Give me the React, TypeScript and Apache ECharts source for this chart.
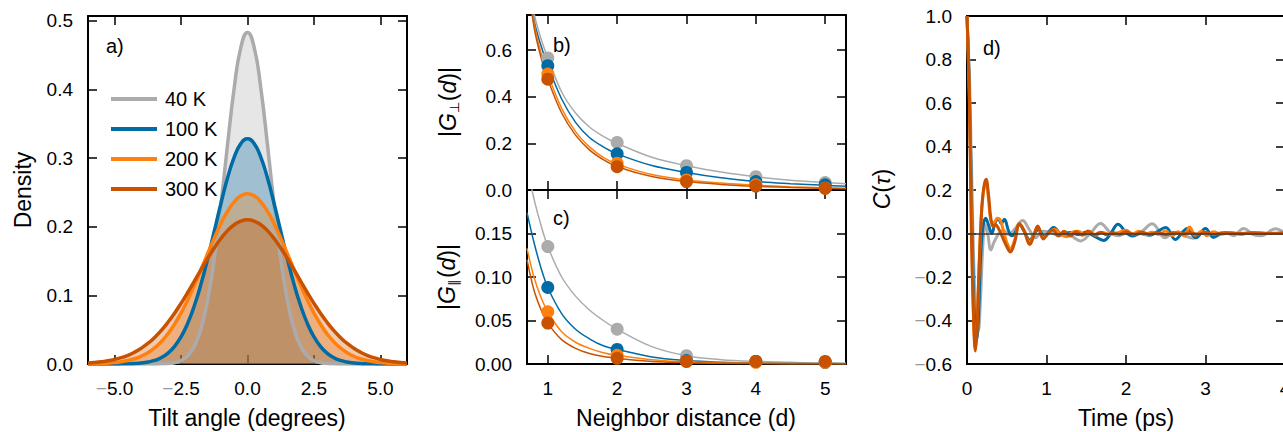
import React, { useEffect, useRef } from 'react';
import * as echarts from 'echarts';

const FONT = '"Liberation Sans", Arial, Helvetica, sans-serif';
const COLORS = ['#ABABAB', '#006BA4', '#FF800E', '#C85200'];
const TEMPS = ['40 K', '100 K', '200 K', '300 K'];

// ---- panel a: tilt angle densities ----
const TILT_X = [-6, -5.75, -5.5, -5.25, -5, -4.75, -4.5, -4.25, -4, -3.75, -3.5, -3.25, -3, -2.75, -2.5, -2.25, -2, -1.75, -1.5, -1.25, -1, -0.75, -0.5, -0.25, 0,
  0.25, 0.5, 0.75, 1, 1.25, 1.5, 1.75, 2, 2.25, 2.5, 2.75, 3, 3.25, 3.5, 3.75, 4, 4.25, 4.5, 4.75, 5, 5.25, 5.5, 5.75, 6];
const DENS_40 = [0, 0, 0, 0, 0, 0, 0, 0, 0, 0, 0.0001, 0.0002, 0.0007, 0.0019, 0.005, 0.0118, 0.0257, 0.0512, 0.0929, 0.1537, 0.2321, 0.3198, 0.4021, 0.4614, 0.483,
  0.4614, 0.4021, 0.3198, 0.2321, 0.1537, 0.0929, 0.0512, 0.0257, 0.0118, 0.005, 0.0019, 0.0007, 0.0002, 0.0001, 0, 0, 0, 0, 0, 0, 0, 0, 0, 0];
const DENS_100 = [0, 0, 0, 0, 0.0001, 0.0002, 0.0003, 0.0007, 0.0015, 0.0028, 0.0052, 0.0092, 0.0156, 0.0254, 0.0396, 0.0592, 0.0848, 0.1164, 0.1533, 0.1934, 0.2339, 0.2712, 0.3014, 0.3211, 0.328,
  0.3211, 0.3014, 0.2712, 0.2339, 0.1934, 0.1533, 0.1164, 0.0848, 0.0592, 0.0396, 0.0254, 0.0156, 0.0092, 0.0052, 0.0028, 0.0015, 0.0007, 0.0003, 0.0002, 0.0001, 0, 0, 0, 0];
const DENS_200 = [0.0002, 0.0004, 0.0007, 0.0012, 0.002, 0.0032, 0.005, 0.0076, 0.0113, 0.0164, 0.0233, 0.0322, 0.0436, 0.0576, 0.0742, 0.0933, 0.1146, 0.1373, 0.1606, 0.1834, 0.2044, 0.2225, 0.2363, 0.245, 0.248,
  0.245, 0.2363, 0.2225, 0.2044, 0.1834, 0.1606, 0.1373, 0.1146, 0.0933, 0.0742, 0.0576, 0.0436, 0.0322, 0.0233, 0.0164, 0.0113, 0.0076, 0.005, 0.0032, 0.002, 0.0012, 0.0007, 0.0004, 0.0002];
const DENS_300 = [0.0014, 0.0022, 0.0032, 0.0046, 0.0066, 0.0092, 0.0127, 0.0172, 0.0229, 0.0299, 0.0385, 0.0486, 0.0604, 0.0737, 0.0884, 0.1042, 0.1207, 0.1374, 0.1538, 0.1691, 0.1828, 0.1943, 0.2029, 0.2082, 0.21,
  0.2082, 0.2029, 0.1943, 0.1828, 0.1691, 0.1538, 0.1374, 0.1207, 0.1042, 0.0884, 0.0737, 0.0604, 0.0486, 0.0385, 0.0299, 0.0229, 0.0172, 0.0127, 0.0092, 0.0066, 0.0046, 0.0032, 0.0022, 0.0014];
const TILT_TICKS = [-5, -2.5, 0, 2.5, 5];
const DENS_TICKS = [0, 0.1, 0.2, 0.3, 0.4, 0.5];

// ---- panels b, c: neighbour correlations ----
const DIST = [1, 2, 3, 4, 5];
const GPERP_40 = [0.566, 0.204, 0.104, 0.057, 0.032];
const GPERP_100 = [0.533, 0.155, 0.075, 0.036, 0.022];
const GPERP_200 = [0.497, 0.115, 0.043, 0.022, 0.008];
const GPERP_300 = [0.475, 0.1, 0.036, 0.017, 0.007];
const GPAR_40 = [0.135, 0.04, 0.0095, 0.003, 0.002];
const GPAR_100 = [0.088, 0.0168, 0.004, 0.003, 0.002];
const GPAR_200 = [0.06, 0.01, 0.003, 0.002, 0.002];
const GPAR_300 = [0.047, 0.0065, 0.003, 0.003, 0.003];
const FIT_X = [0.7, 0.8, 0.9, 1.0, 1.2, 1.4, 1.6, 1.8, 2.0, 2.5, 3.0, 3.5, 4.0, 4.5, 5.0, 5.3];
const FPERP_40 = [0.95, 0.76, 0.65, 0.566, 0.42, 0.33, 0.27, 0.23, 0.2, 0.14, 0.104, 0.077, 0.057, 0.042, 0.032, 0.027];
const FPERP_100 = [0.95, 0.73, 0.62, 0.533, 0.39, 0.29, 0.225, 0.185, 0.155, 0.105, 0.075, 0.052, 0.036, 0.027, 0.02, 0.016];
const FPERP_200 = [0.95, 0.72, 0.59, 0.497, 0.35, 0.25, 0.185, 0.14, 0.111, 0.066, 0.043, 0.03, 0.021, 0.014, 0.009, 0.007];
const FPERP_300 = [0.93, 0.7, 0.57, 0.475, 0.33, 0.235, 0.172, 0.13, 0.1, 0.058, 0.036, 0.024, 0.016, 0.011, 0.007, 0.005];
const FPAR_40 = [0.23, 0.19, 0.16, 0.135, 0.1, 0.078, 0.062, 0.05, 0.04, 0.02, 0.0095, 0.005, 0.003, 0.002, 0.001, 0.001];
const FPAR_100 = [0.174, 0.14, 0.111, 0.088, 0.058, 0.04, 0.029, 0.021, 0.0168, 0.008, 0.004, 0.002, 0.001, 0.0007, 0.0005, 0.0004];
const FPAR_200 = [0.133, 0.1, 0.077, 0.06, 0.037, 0.025, 0.018, 0.013, 0.01, 0.005, 0.0025, 0.0015, 0.001, 0.0007, 0.0005, 0.0004];
const FPAR_300 = [0.12, 0.085, 0.063, 0.047, 0.028, 0.018, 0.012, 0.0085, 0.0065, 0.003, 0.0015, 0.0008, 0.0005, 0.0003, 0.0002, 0.0002];
const PERP_TICKS = [0, 0.2, 0.4, 0.6];
const PAR_TICKS = [0, 0.05, 0.1, 0.15];

// ---- panel d: autocorrelation C(tau) [time ps, value] ----
const CT_40 = [[0, 1.0], [0.035, 0.66], [0.075, 0.0], [0.11, -0.38], [0.14, -0.45], [0.17, -0.3], [0.2, -0.05], [0.23, 0.04], [0.26, 0.0], [0.3, -0.075], [0.34, -0.04], [0.4, 0.0], [0.46, 0.015], [0.52, -0.005], [0.6, 0.02], [0.7, 0.06], [0.78, 0.02], [0.86, -0.02], [0.95, 0.01], [1.05, 0.005], [1.15, -0.01], [1.25, 0.005], [1.35, -0.02], [1.43, -0.034], [1.55, 0.0], [1.68, 0.046], [1.8, 0.005], [1.9, -0.01], [2.0, 0.0], [2.1, -0.005], [2.2, 0.01], [2.33, 0.045], [2.49, -0.02], [2.6, 0.005], [2.7, -0.005], [2.85, -0.022], [2.97, 0.005], [3.1, -0.005], [3.25, 0.005], [3.35, -0.01], [3.48, 0.023], [3.6, -0.005], [3.7, -0.01], [3.88, 0.022], [4.0, 0.0]];
const CT_100 = [[0, 1.0], [0.03, 0.66], [0.065, 0.0], [0.095, -0.4], [0.12, -0.49], [0.145, -0.38], [0.17, -0.12], [0.2, 0.03], [0.235, 0.07], [0.27, 0.04], [0.31, 0.0], [0.36, 0.055], [0.4, 0.065], [0.43, 0.045], [0.47, 0.065], [0.52, 0.015], [0.56, -0.01], [0.6, 0.0], [0.66, 0.04], [0.72, 0.01], [0.79, -0.03], [0.85, 0.0], [0.9, 0.02], [0.97, -0.015], [1.09, 0.028], [1.2, -0.005], [1.3, 0.005], [1.4, -0.005], [1.5, 0.006], [1.6, -0.012], [1.72, -0.032], [1.8, -0.005], [1.9, 0.043], [2.0, 0.005], [2.08, -0.012], [2.18, 0.0], [2.3, -0.008], [2.38, 0.005], [2.5, 0.028], [2.62, -0.028], [2.72, 0.01], [2.77, 0.023], [2.88, -0.02], [3.0, 0.023], [3.1, -0.018], [3.2, 0.0], [3.3, 0.004], [3.45, -0.002], [3.6, 0.003], [3.8, 0.0], [4.0, 0.001]];
const CT_200 = [[0, 1.0], [0.03, 0.62], [0.06, 0.0], [0.085, -0.42], [0.105, -0.53], [0.125, -0.44], [0.15, -0.17], [0.18, 0.08], [0.21, 0.2], [0.24, 0.23], [0.27, 0.16], [0.3, 0.06], [0.34, 0.05], [0.38, 0.07], [0.42, 0.06], [0.46, 0.01], [0.5, -0.04], [0.545, -0.07], [0.6, -0.03], [0.66, 0.045], [0.72, 0.015], [0.79, -0.04], [0.84, -0.005], [0.89, 0.03], [0.96, -0.02], [1.02, 0.0], [1.1, 0.02], [1.18, -0.005], [1.25, -0.015], [1.32, 0.005], [1.4, 0.01], [1.48, -0.006], [1.55, 0.008], [1.62, -0.008], [1.7, 0.005], [1.8, -0.004], [1.9, 0.004], [2.0, 0.015], [2.08, -0.002], [2.16, 0.01], [2.24, -0.006], [2.32, 0.006], [2.42, -0.004], [2.5, 0.012], [2.58, -0.01], [2.66, 0.008], [2.74, -0.012], [2.8, 0.03], [2.87, -0.008], [2.95, 0.01], [3.02, -0.01], [3.1, 0.008], [3.2, -0.004], [3.3, 0.003], [3.45, -0.003], [3.6, 0.004], [3.8, 0.0], [4.0, 0.002]];
const CT_300 = [[0, 1.0], [0.03, 0.62], [0.055, 0.0], [0.085, -0.42], [0.105, -0.54], [0.125, -0.45], [0.15, -0.18], [0.18, 0.08], [0.21, 0.21], [0.24, 0.25], [0.27, 0.18], [0.3, 0.07], [0.33, 0.03], [0.36, 0.04], [0.4, 0.02], [0.45, -0.02], [0.5, -0.06], [0.545, -0.085], [0.6, -0.04], [0.66, 0.045], [0.72, 0.01], [0.79, -0.05], [0.84, -0.01], [0.89, 0.035], [0.96, -0.025], [1.02, 0.0], [1.08, 0.016], [1.15, -0.012], [1.22, 0.01], [1.3, -0.012], [1.37, 0.008], [1.45, -0.008], [1.52, 0.012], [1.6, -0.006], [1.68, 0.006], [1.76, -0.006], [1.84, 0.004], [1.92, -0.004], [2.0, 0.008], [2.1, -0.004], [2.2, 0.006], [2.3, -0.004], [2.4, 0.004], [2.5, -0.006], [2.6, 0.004], [2.7, -0.002], [2.8, 0.004], [2.9, -0.004], [3.0, 0.006], [3.1, -0.004], [3.2, 0.002], [3.4, 0.0], [3.6, 0.002], [3.8, 0.0], [4.0, 0.001]];
const TIME_TICKS = [0, 1, 2, 3, 4];
const CT_TICKS = [-0.6, -0.4, -0.2, 0, 0.2, 0.4, 0.6, 0.8, 1.0];

function fmt(d: number) {
  return (v: number) => {
    const s = Math.abs(v).toFixed(d);
    return v < -1e-9 ? '{m|\u2212}' + s : s;
  };
}

function xAx(grid: number, min: number, max: number, ticks: number[], pos: string, labels: boolean, d = 1) {
  return {
    type: 'value', gridIndex: grid, min, max, position: pos,
    axisLine: { show: true, onZero: false, lineStyle: { color: '#000', width: 2 } },
    axisTick: { show: true, inside: true, length: 9, customValues: ticks, lineStyle: { color: '#000', width: 1.5 } },
    axisLabel: {
      show: labels, customValues: ticks, formatter: fmt(d), fontSize: 19, color: '#000', fontFamily: FONT, margin: 15,
      hideOverlap: false, showMinLabel: true, showMaxLabel: true,
      rich: { m: { color: '#9a9a9a', fontSize: 19, fontFamily: FONT } },
    },
    splitLine: { show: false },
  };
}

export default function App() {
  const ref = useRef<HTMLDivElement>(null);
  useEffect(() => {
    const chart = echarts.init(ref.current!, null, { renderer: 'svg' });
    const dens = [DENS_40, DENS_100, DENS_200, DENS_300];
    const gperp = [GPERP_40, GPERP_100, GPERP_200, GPERP_300];
    const gpar = [GPAR_40, GPAR_100, GPAR_200, GPAR_300];
    const fperp = [FPERP_40, FPERP_100, FPERP_200, FPERP_300];
    const fpar = [FPAR_40, FPAR_100, FPAR_200, FPAR_300];
    const ct = [CT_40, CT_100, CT_200, CT_300];

    const series: any[] = [];
    // panel a fills (histogram-like shading)
    dens.forEach((arr, i) => series.push({
      type: 'line', name: 'hist ' + TEMPS[i], xAxisIndex: 0, yAxisIndex: 0, smooth: true, symbol: 'none', silent: true, z: 1,
      data: TILT_X.map((x, k) => [x, arr[k]]),
      lineStyle: { width: 0, color: COLORS[i] }, itemStyle: { color: COLORS[i] },
      areaStyle: { color: COLORS[i], opacity: 0.3 },
    }));
    dens.forEach((arr, i) => series.push({
      type: 'line', name: TEMPS[i], xAxisIndex: 0, yAxisIndex: 0, smooth: true, symbol: 'none', z: 3,
      data: TILT_X.map((x, k) => [x, arr[k]]),
      lineStyle: { width: 3.5, color: COLORS[i] }, itemStyle: { color: COLORS[i] },
    }));
    // panels b, c
    [[fperp, gperp, 2], [fpar, gpar, 4]].forEach(([fits, pts, ax]: any) => {
      fits.forEach((arr: number[], i: number) => series.push({
        type: 'line', name: 'fit' + ax + ' ' + TEMPS[i], xAxisIndex: ax, yAxisIndex: ax, smooth: 0.35, symbol: 'none', z: 2,
        data: FIT_X.map((x, k) => [x, arr[k]]), clip: true,
        lineStyle: { width: 1.5, color: COLORS[i] }, itemStyle: { color: COLORS[i] },
      }));
      pts.forEach((arr: number[], i: number) => series.push({
        type: 'scatter', name: 'pts' + ax + ' ' + TEMPS[i], xAxisIndex: ax, yAxisIndex: ax, symbolSize: 13, z: 3,
        data: DIST.map((x, k) => [x, arr[k]]), itemStyle: { color: COLORS[i], opacity: 1 },
      }));
    });
    // panel d
    ct.forEach((arr, i) => series.push({
      type: 'line', name: 'ct ' + TEMPS[i], xAxisIndex: 6, yAxisIndex: 6, smooth: 0.4, symbol: 'none', z: 3, clip: true,
      data: arr, lineStyle: { width: 3, color: COLORS[i] }, itemStyle: { color: COLORS[i] },
      markLine: i === 0 ? {
        silent: true, symbol: 'none', label: { show: false }, animation: false,
        lineStyle: { color: '#3a3a3a', width: 1.5, type: 'solid' }, data: [{ yAxis: 0 }],
      } : undefined,
    }));

    const ttl = (text: string, x: number, y: number, rot = 0, size = 23, extra: any = {}) => ({
      type: 'text', x, y, rotation: rot, z: 10, silent: true,
      style: {
        text, fontSize: size, fontFamily: FONT, fill: '#000',
        textAlign: 'center', align: 'center', textVerticalAlign: 'middle', verticalAlign: 'middle', ...extra,
      },
    });
    const mathRich = {
      g: { fontStyle: 'italic', fontSize: 23, fontFamily: FONT, lineHeight: 26, verticalAlign: 'middle' },
      s: { fontSize: 13, fontFamily: FONT, lineHeight: 26, verticalAlign: 'bottom', padding: [0, 1, 0, 0] },
      n: { fontSize: 23, fontFamily: FONT, lineHeight: 26, verticalAlign: 'middle' },
    };

    const option: any = {
      animation: false,
      backgroundColor: '#fff',
      textStyle: { fontFamily: FONT },
      grid: [
        { left: 88, top: 16, width: 319, height: 348, outerBoundsMode: 'none', containLabel: false },
        { left: 527, top: 15, width: 319, height: 175, outerBoundsMode: 'none', containLabel: false },
        { left: 527, top: 190, width: 319, height: 174, outerBoundsMode: 'none', containLabel: false },
        { left: 967, top: 16, width: 318, height: 348, outerBoundsMode: 'none', containLabel: false },
      ],
      xAxis: [
        xAx(0, -6, 6, TILT_TICKS, 'bottom', true, 1),
        xAx(0, -6, 6, TILT_TICKS, 'top', false),
        xAx(1, 0.7, 5.3, DIST, 'bottom', false),
        xAx(1, 0.7, 5.3, DIST, 'top', false),
        xAx(2, 0.7, 5.3, DIST, 'bottom', true, 0),
        xAx(2, 0.7, 5.3, DIST, 'top', false),
        xAx(3, 0, 4, TIME_TICKS, 'bottom', true, 0),
        xAx(3, 0, 4, TIME_TICKS, 'top', false),
      ],
      yAxis: [
        xAx(0, 0, 0.507, DENS_TICKS, 'left', true, 1),
        xAx(0, 0, 0.507, DENS_TICKS, 'right', false),
        xAx(1, 0, 0.75, PERP_TICKS, 'left', true, 1),
        xAx(1, 0, 0.75, PERP_TICKS, 'right', false),
        xAx(2, 0, 0.2, PAR_TICKS, 'left', true, 2),
        xAx(2, 0, 0.2, PAR_TICKS, 'right', false),
        xAx(3, -0.6, 1.0, CT_TICKS, 'left', true, 1),
        xAx(3, -0.6, 1.0, CT_TICKS, 'right', false),
      ],
      legend: {
        data: TEMPS, orient: 'vertical', left: 106, top: 84, icon: 'rect', itemWidth: 46, itemHeight: 4, itemGap: 10,
        selectedMode: false,
        textStyle: { fontSize: 20, fontFamily: FONT, color: '#000', padding: [0, 0, 0, 3] },
      },
      graphic: [
        ttl('Density', 23, 190, Math.PI / 2),
        ttl('Tilt angle (degrees)', 247, 418),
        ttl('a)', 106, 46, 0, 20, { textAlign: 'left', align: 'left' }),
        ttl('|{g|G}{s|\u22A5}({g|d})|', 448, 102, Math.PI / 2, 23, { rich: mathRich }),
        ttl('b)', 553, 45, 0, 20, { textAlign: 'left', align: 'left' }),
        ttl('c)', 553, 218, 0, 20, { textAlign: 'left', align: 'left' }),
        ttl('|{g|G}{s|\u2225}({g|d})|', 447, 277, Math.PI / 2, 23, { rich: mathRich }),
        ttl('Neighbor distance (d)', 686, 418),
        ttl('{g|C}({g|\u03C4})', 882, 189, Math.PI / 2, 23, { rich: mathRich }),
        ttl('d)', 983, 48, 0, 20, { textAlign: 'left', align: 'left' }),
        ttl('Time (ps)', 1126, 418),
      ],
      series,
    };
    chart.setOption(option);
    return () => chart.dispose();
  }, []);
  return <div ref={ref} style={{ position: 'fixed', left: 0, top: 0, width: 1283, height: 432, background: '#fff' }} />;
}
